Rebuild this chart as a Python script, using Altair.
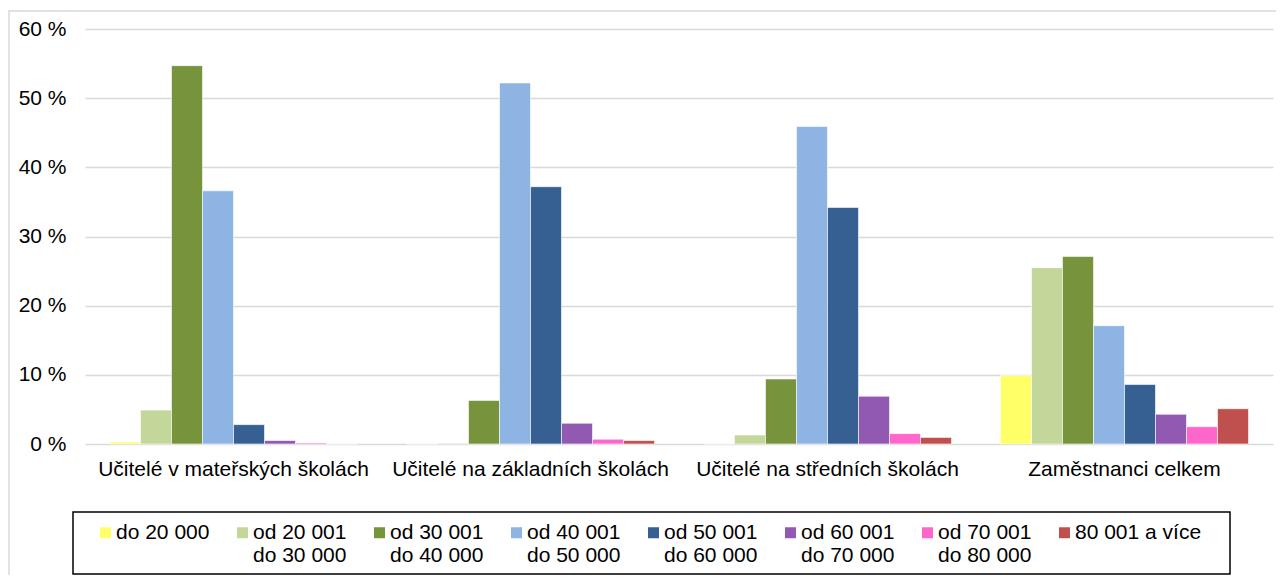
import altair as alt
import pandas as pd

categories = ["Učitelé v mateřských školách", "Učitelé na základních školách",
              "Učitelé na středních školách", "Zaměstnanci celkem"]
series = ["do 20 000| ", "od 20 001|do 30 000", "od 30 001|do 40 000", "od 40 001|do 50 000",
          "od 50 001|do 60 000", "od 60 001|do 70 000", "od 70 001|do 80 000", "80 001 a více| "]
colors = ["#FFFF66", "#C4D79B", "#77933C", "#8DB4E2", "#366092", "#9159B1", "#FF66CC", "#C0504D"]
v_ms = [0.3, 4.9, 54.7, 36.6, 2.8, 0.5, 0.15, 0.0]
v_zs = [0.0, 0.1, 6.3, 52.2, 37.2, 3.0, 0.7, 0.5]
v_ss = [0.0, 1.3, 9.4, 45.9, 34.2, 6.9, 1.5, 0.95]
v_total = [9.9, 25.5, 27.1, 17.1, 8.6, 4.3, 2.5, 5.1]
y_ticks = [0, 10, 20, 30, 40, 50, 60]

rows = []
for cat, vals in zip(categories, [v_ms, v_zs, v_ss, v_total]):
    for s, v in zip(series, vals):
        rows.append({"cat": cat, "ser": s, "val": v})
df = pd.DataFrame(rows)

FONT = "Liberation Sans"
FS = 21

bars = alt.Chart(df).mark_bar(stroke="white", strokeWidth=0.6).encode(
    x=alt.X("cat:N", sort=categories,
            scale=alt.Scale(paddingInner=0.165, paddingOuter=0.0825),
            axis=alt.Axis(title=None, labelAngle=0, labelFontSize=FS, labelPadding=14,
                          labelLimit=500, ticks=False, domain=False,
                          labelColor="black", labelFont=FONT)),
    xOffset=alt.XOffset("ser:N", sort=series, scale=alt.Scale(paddingInner=0, paddingOuter=0)),
    y=alt.Y("val:Q", scale=alt.Scale(domain=[0, 60]),
            axis=alt.Axis(title=None, values=y_ticks, labelExpr="datum.value + ' %'",
                          labelFontSize=FS, labelFont=FONT, labelColor="black",
                          labelPadding=19, ticks=False, domain=False,
                          gridColor="#d9d9d9", gridWidth=1.5)),
    color=alt.Color("ser:N", sort=series,
                    scale=alt.Scale(domain=series, range=colors),
                    legend=alt.Legend(orient="none", legendX=10, legendY=482,
                                      direction="horizontal", columns=8, title=None,
                                      symbolType="M-1,1H1V3H-1Z", symbolSize=121,
                                      symbolStrokeWidth=0, labelFontSize=FS,
                                      labelFont=FONT, labelColor="black",
                                      labelExpr="split(datum.label, '|')",
                                      columnPadding=22, labelOffset=0, padding=0,
                                      labelLimit=400, gridAlign="each",
                                      labelBaseline="top")),
)

one = pd.DataFrame({"a": [0]})
frame = alt.Chart(one).mark_rect(fillOpacity=0, stroke="#d9d9d9", strokeWidth=1.5).encode(
    x=alt.value(-76), x2=alt.value(1300), y=alt.value(-18), y2=alt.value(700))
legend_box = alt.Chart(one).mark_rect(fillOpacity=0, stroke="black", strokeWidth=1.5).encode(
    x=alt.value(-12), x2=alt.value(1145), y=alt.value(483), y2=alt.value(545))

chart = alt.layer(frame, bars, legend_box).properties(
    width=1188, height=415,
    padding={"left": 77, "top": 21, "right": 3, "bottom": 131},
    autosize="none",
).configure_view(stroke=None)

chart.save("out.html", embed_options={"renderer": "svg", "actions": False})
